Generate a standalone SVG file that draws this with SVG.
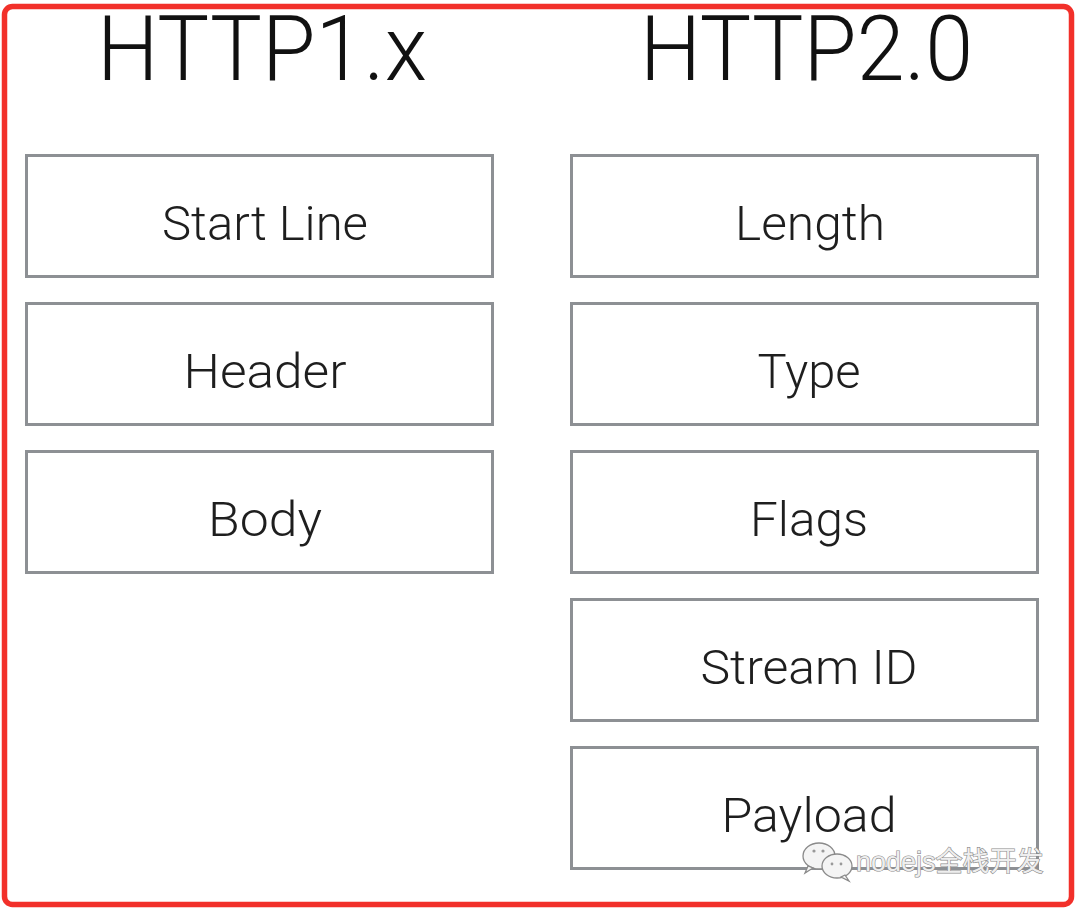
<svg xmlns="http://www.w3.org/2000/svg" width="1080" height="911" viewBox="0 0 1080 911">
<style>
.frame{fill:none;stroke:#f2302a;stroke-width:5.5}
.box{fill:#fff;stroke:#8d9094;stroke-width:3}
.title{font-family:Roboto,"Liberation Sans",Arial,sans-serif;font-weight:300;font-size:90px;fill:#111;text-anchor:middle}
.label{font-family:Roboto,"Liberation Sans",Arial,sans-serif;font-weight:300;font-size:48px;fill:#1e1e1e;text-anchor:middle}
.wm{font-family:"Liberation Sans","Noto Sans CJK SC",sans-serif;font-size:27px;fill:#eeeeee;stroke:#8a8a8a;stroke-width:1.2;paint-order:stroke}
.bubble{fill:#f4f4f4;stroke:#8a8a8a;stroke-width:1.3}
</style>
<rect x="0" y="0" width="1080" height="911" fill="#fff"/>
<rect class="frame" x="4.5" y="6.5" width="1067" height="898" rx="8"/>
<g id="titles">
<text class="title" x="262" y="80" textLength="330" lengthAdjust="spacingAndGlyphs">HTTP1.x</text>
<text class="title" x="806.5" y="80" textLength="333" lengthAdjust="spacingAndGlyphs">HTTP2.0</text>
</g>
<g id="http1-start-line"><rect class="box" x="26.5" y="155.5" width="466" height="121"/><text class="label" x="265" y="240" textLength="206" lengthAdjust="spacingAndGlyphs">Start Line</text></g>
<g id="http1-header"><rect class="box" x="26.5" y="303.5" width="466" height="121"/><text class="label" x="265" y="388" textLength="163" lengthAdjust="spacingAndGlyphs">Header</text></g>
<g id="http1-body"><rect class="box" x="26.5" y="451.5" width="466" height="121"/><text class="label" x="265" y="536" textLength="114" lengthAdjust="spacingAndGlyphs">Body</text></g>
<g id="http2-length"><rect class="box" x="571.5" y="155.5" width="466" height="121"/><text class="label" x="810" y="240" textLength="150" lengthAdjust="spacingAndGlyphs">Length</text></g>
<g id="http2-type"><rect class="box" x="571.5" y="303.5" width="466" height="121"/><text class="label" x="809" y="388" textLength="103" lengthAdjust="spacingAndGlyphs">Type</text></g>
<g id="http2-flags"><rect class="box" x="571.5" y="451.5" width="466" height="121"/><text class="label" x="809" y="536" textLength="118" lengthAdjust="spacingAndGlyphs">Flags</text></g>
<g id="http2-stream-id"><rect class="box" x="571.5" y="599.5" width="466" height="121"/><text class="label" x="809" y="684" textLength="217" lengthAdjust="spacingAndGlyphs">Stream ID</text></g>
<g id="http2-payload"><rect class="box" x="571.5" y="747.5" width="466" height="121"/><text class="label" x="809" y="832" textLength="175" lengthAdjust="spacingAndGlyphs">Payload</text></g>
<g id="connectors"></g>
<g id="watermark">
<ellipse class="bubble" cx="819" cy="856" rx="16" ry="13"/>
<path class="bubble" d="M808 866 L805 873 L813 868 Z"/>
<ellipse class="bubble" cx="837" cy="866" rx="15" ry="12"/>
<path class="bubble" d="M845 875 L849 881 L841 877 Z"/>
<circle cx="814" cy="851" r="1.6" fill="#999"/>
<circle cx="823" cy="851" r="1.6" fill="#999"/>
<circle cx="832" cy="864" r="1.4" fill="#999"/>
<circle cx="841" cy="864" r="1.4" fill="#999"/>
<text class="wm" x="856" y="871">nodejs全栈开发</text>
</g>
</svg>
